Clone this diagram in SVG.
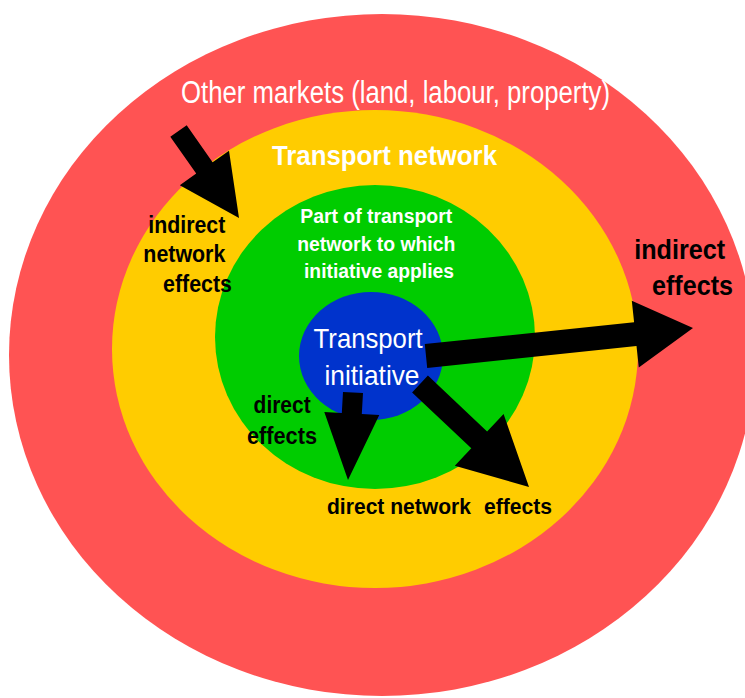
<svg xmlns="http://www.w3.org/2000/svg" width="745" height="698" viewBox="0 0 745 698">
<style>
text{font-family:"Liberation Sans",Arial,sans-serif;}
.w{fill:#ffffff;}
.k{fill:#000000;font-weight:bold;}
.b{font-weight:bold;}
.arrow{fill:#000000;}
</style>
<rect width="745" height="698" fill="#ffffff"/>
<g id="other-markets">
<ellipse cx="382" cy="355" rx="373" ry="341" fill="#FF5353"/>
<text class="w" x="181" y="103" font-size="31" textLength="429" lengthAdjust="spacingAndGlyphs">Other markets (land, labour, property)</text>
</g>
<g id="transport-network">
<ellipse cx="375" cy="349" rx="263" ry="239" fill="#FFCC00"/>
<text class="w b" x="272" y="165" font-size="28" textLength="225" lengthAdjust="spacingAndGlyphs">Transport network</text>
</g>
<g id="part-network">
<ellipse cx="375" cy="337" rx="160" ry="152" fill="#00CC00"/>
<text class="w b" font-size="20" text-anchor="middle">
<tspan x="379" y="223" textLength="152" lengthAdjust="spacingAndGlyphs">Part of transport</tspan>
<tspan x="379" y="251" textLength="158" lengthAdjust="spacingAndGlyphs">network to which</tspan>
<tspan x="379" y="278" textLength="150" lengthAdjust="spacingAndGlyphs">initiative applies</tspan>
</text>
</g>
<g id="transport-initiative">
<ellipse cx="371" cy="356" rx="72" ry="64" fill="#0033CC"/>
<text class="w" font-size="28" text-anchor="middle">
<tspan x="372" y="348" textLength="109" lengthAdjust="spacingAndGlyphs">Transport</tspan>
<tspan x="372" y="385" textLength="95" lengthAdjust="spacingAndGlyphs">initiative</tspan>
</text>
</g>
<g id="connectors">
<polygon class="arrow" points="170.3,136.8 186.7,125.3 212.6,162.2 229,150.7 239,218 179.8,185.2 196.2,173.6"/>
<polygon class="arrow" points="424.8,344.1 634.1,322.2 631.8,300.8 693,328 638.8,367.4 636.5,346 427.2,367.9"/>
<polygon class="arrow" points="343,391.9 363,393.1 361.8,414.1 379.3,415.1 348,480 324.3,411.9 341.8,412.9"/>
<polygon class="arrow" points="412.1,392.4 427.9,375.6 487.1,431.5 503.6,414.1 529,487 454.8,465.7 471.3,448.3"/>
</g>
<g id="labels">
<text class="k" font-size="24" text-anchor="end">
<tspan x="232" y="233" textLength="77" lengthAdjust="spacingAndGlyphs">indirect</tspan>
<tspan x="232" y="262" textLength="82" lengthAdjust="spacingAndGlyphs">network</tspan>
<tspan x="232" y="292" textLength="69" lengthAdjust="spacingAndGlyphs">effects</tspan>
</text>
<text class="k" font-size="28" text-anchor="end">
<tspan x="733" y="259" textLength="91" lengthAdjust="spacingAndGlyphs">indirect</tspan>
<tspan x="733" y="295" textLength="81" lengthAdjust="spacingAndGlyphs">effects</tspan>
</text>
<text class="k" font-size="23" text-anchor="end">
<tspan x="317" y="413" textLength="57" lengthAdjust="spacingAndGlyphs">direct</tspan>
<tspan x="317" y="444" textLength="70" lengthAdjust="spacingAndGlyphs">effects</tspan>
</text>
<text class="k" font-size="22" x="327" y="514" textLength="144" lengthAdjust="spacingAndGlyphs">direct network</text>
<text class="k" font-size="22" x="484" y="514" textLength="68" lengthAdjust="spacingAndGlyphs">effects</text>
</g>
</svg>
